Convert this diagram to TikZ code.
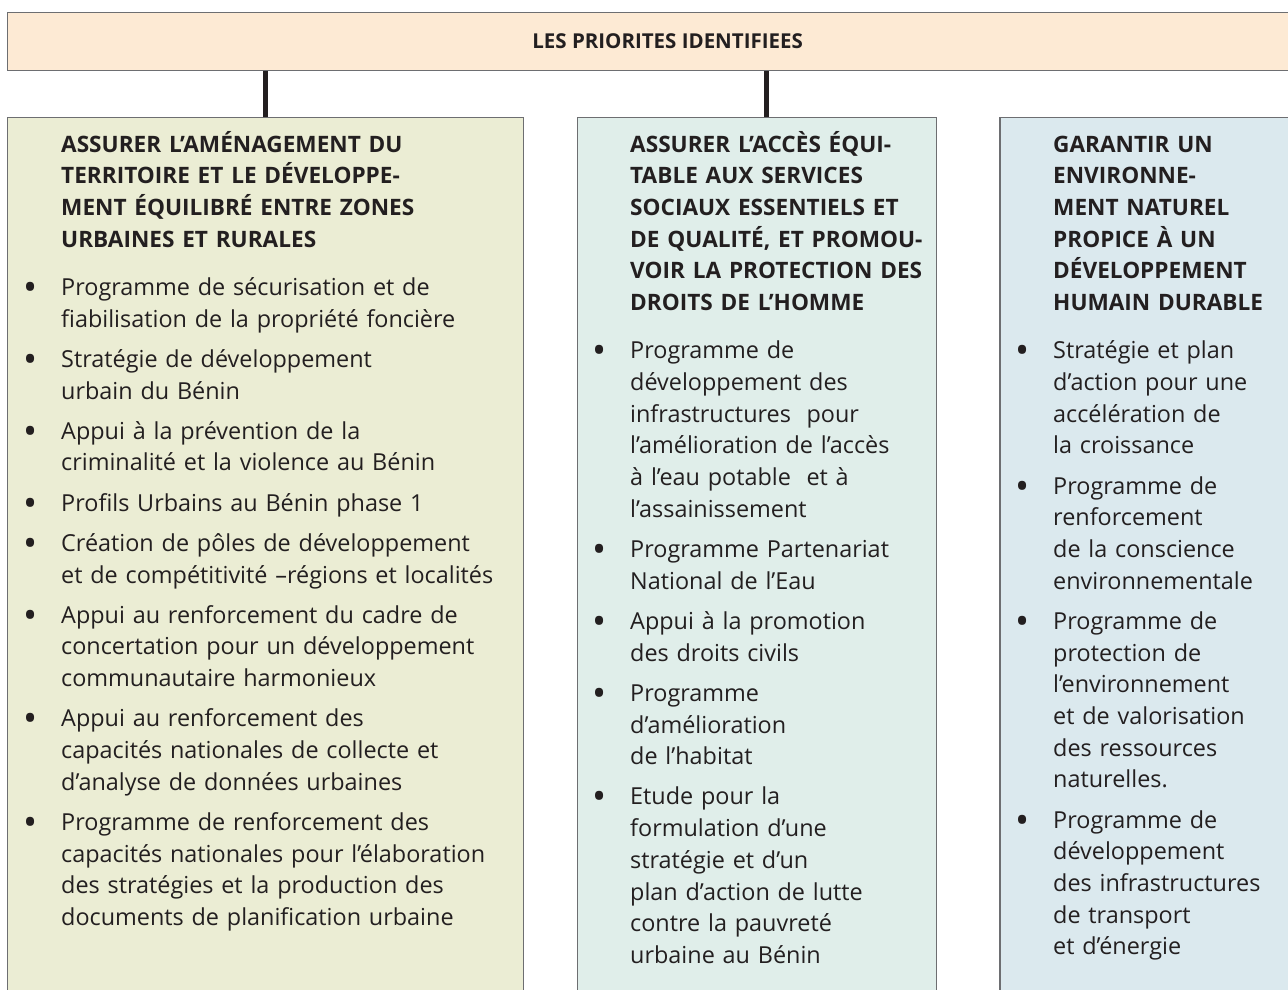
\documentclass[tikz,border=0pt]{standalone}
\usepackage{fontspec}
\usepackage{graphicx}
\setmainfont{Open Sans}
\usetikzlibrary{positioning}

\definecolor{peche}{HTML}{FDEAD4}
\definecolor{olive}{HTML}{EBEDD4}
\definecolor{menthe}{HTML}{E0EEEA}
\definecolor{ciel}{HTML}{DBE9EE}
\definecolor{encre}{HTML}{231F20}
\definecolor{trait}{HTML}{6D6E71}

% une priorite : titre en gras puis liste a puces
\newcommand{\axetitre}[1]{\noindent\strut{\fontsize{22.6}{31.7}\selectfont\bfseries #1}\par\vspace{8pt}}
\newcommand{\puce}[1]{\par\vspace{8.5pt}\noindent\llap{\makebox[0pt][c]{\raisebox{-5pt}{\scalebox{1.6}{•}}}\hspace{31pt}}#1}

\begin{document}
\begin{tikzpicture}
  [x=1pt,y=-1pt,
   boite/.style={draw=trait,line width=1.2pt,anchor=north west,inner sep=0pt},
   colonne/.style={align=left,inner sep=0pt,text=encre,
     font=\fontsize{23.4}{31.7}\selectfont},
   lien/.style={draw=encre,line width=5pt}]
  \useasboundingbox (0,0) rectangle (1288,990);

  \node[boite,fill=peche,minimum width=1320,minimum height=58,
    font=\fontsize{20.5}{24}\selectfont\bfseries,text=encre] (prio) at (7,12) {LES PRIORITES IDENTIFIEES};
  \node[boite,fill=olive,minimum width=515.7,minimum height=883] (axe1) at (7,117) {};
  \node[boite,fill=menthe,minimum width=358.8,minimum height=883] (axe2) at (576.7,117) {};
  \node[boite,fill=ciel,minimum width=300,minimum height=883] (axe3) at (999.3,117) {};

  \coordinate (h1) at (axe1.north);
  \coordinate (h2) at ([xshift=9.6pt]axe2.north);
  \foreach \haut in {h1,h2}
    \draw[lien] (\haut) -- (\haut |- prio.south);

  \node[colonne,text width=480,below right=12.8pt and 54pt of axe1.north west] (txt1) {%
    \axetitre{ASSURER L’AMÉNAGEMENT DU\\TERRITOIRE ET LE DÉVELOPPE-\\MENT ÉQUILIBRÉ ENTRE ZONES\\URBAINES ET RURALES}
    \puce{Programme de sécurisation et de\\fiabilisation de la propriété foncière}
    \puce{Stratégie de développement\\urbain du Bénin}
    \puce{Appui à la prévention de la\\criminalité et la violence au Bénin}
    \puce{Profils Urbains au Bénin phase 1}
    \puce{Création de pôles de développement\\et de compétitivité –régions et localités}
    \puce{Appui au renforcement du cadre de\\concertation pour un développement\\communautaire harmonieux}
    \puce{Appui au renforcement des\\capacités nationales de collecte et\\d’analyse de données urbaines}
    \puce{Programme de renforcement des\\capacités nationales pour l’élaboration\\des stratégies et la production des\\documents de planification urbaine}};

  \node[colonne,text width=340,below right=12.8pt and 53.3pt of axe2.north west] (txt2) {%
    \axetitre{ASSURER L’ACCÈS ÉQUI-\\TABLE AUX SERVICES\\SOCIAUX ESSENTIELS ET\\DE QUALITÉ, ET PROMOU-\\VOIR LA PROTECTION DES\\DROITS DE L’HOMME}
    \puce{Programme de\\développement des\\infrastructures \ pour\\l’amélioration de l’accès\\à l’eau potable \ et à\\l’assainissement}
    \puce{Programme Partenariat\\National de l’Eau}
    \puce{Appui à la promotion\\des droits civils}
    \puce{Programme\\d’amélioration\\de l’habitat}
    \puce{Etude pour la\\formulation d’une\\stratégie et d’un\\plan d’action de lutte\\contre la pauvreté\\urbaine au Bénin}};

  \node[colonne,text width=280,below right=12.8pt and 53.7pt of axe3.north west] (txt3) {%
    \axetitre{GARANTIR UN\\ENVIRONNE-\\MENT NATUREL\\PROPICE À UN\\DÉVELOPPEMENT\\HUMAIN DURABLE}
    \puce{Stratégie et plan\\d’action pour une\\accélération de\\la croissance}
    \puce{Programme de\\renforcement\\de la conscience\\environnementale}
    \puce{Programme de\\protection de\\l’environnement\\et de valorisation\\des ressources\\naturelles.}
    \puce{Programme de\\développement\\des infrastructures\\de transport\\et d’énergie}};
\end{tikzpicture}
\end{document}
